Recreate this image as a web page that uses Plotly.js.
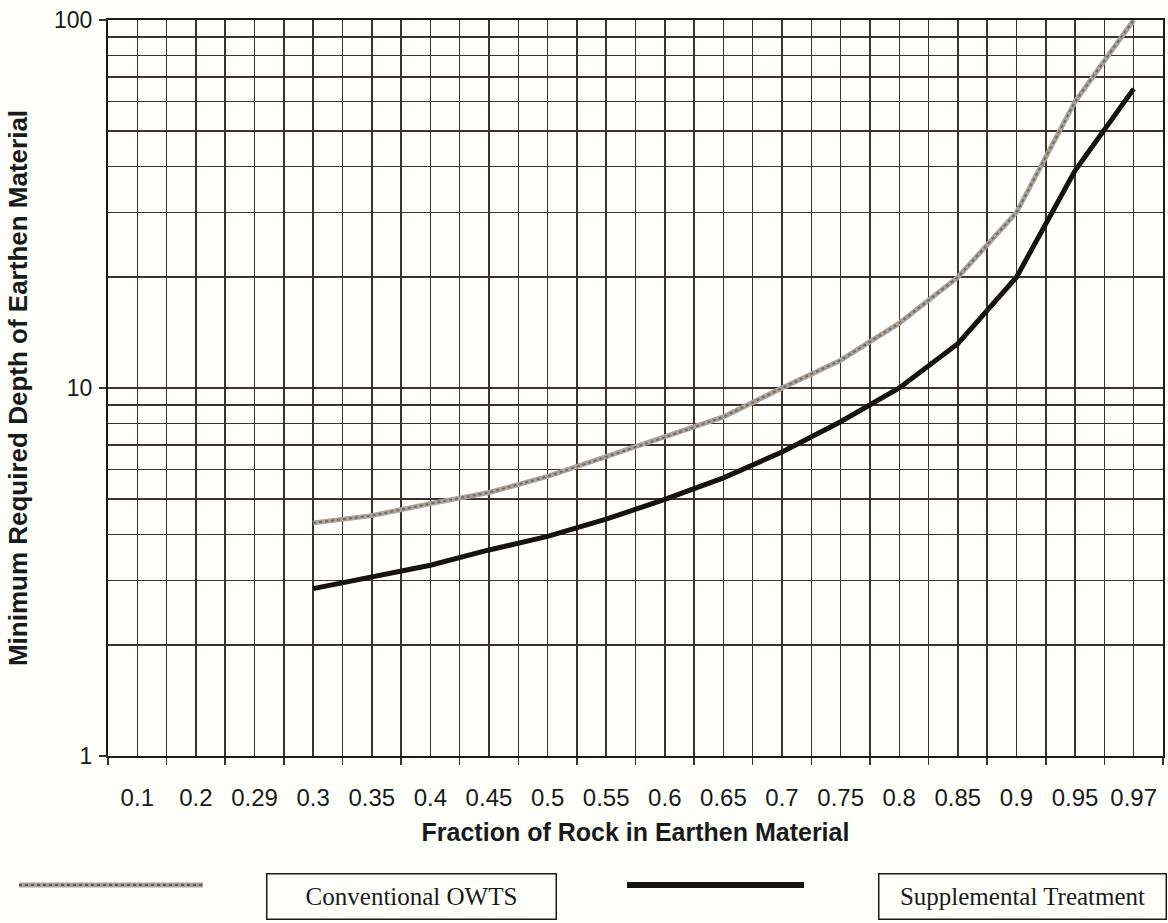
<!DOCTYPE html>
<html>
<head>
<meta charset="utf-8">
<script src="https://cdn.plot.ly/plotly-3.0.1.min.js"></script>
<style>html,body{margin:0;padding:0;background:#fffffb;}#chart{width:1168px;height:923px;}</style>
</head>
<body>
<div id="chart"></div>
<script>
const categories = ["0.1","0.2","0.29","0.3","0.35","0.4","0.45","0.5","0.55","0.6","0.65","0.7","0.75","0.8","0.85","0.9","0.95","0.97"];
const conventional = [null,null,null,4.3,4.5,4.85,5.2,5.75,6.5,7.35,8.35,10,11.9,15,20,30,60,100];
const supplemental = [null,null,null,2.85,3.07,3.3,3.63,3.95,4.4,4.98,5.7,6.7,8.1,10,13.2,20,39,65];
const yTicks = [1,10,100];
const yMinor = [2,3,4,5,6,7,8,9,20,30,40,50,60,70,80,90];
const seriesNames = ["Conventional OWTS","Supplemental Treatment"];

const gridCol = "#3b332c";
const centers = categories.map((c,i)=>i);

const traces = [
  {x: categories, y: conventional, type:"scatter", mode:"lines", line:{color:"#a9a49c", width:5}, showlegend:false, hoverinfo:"skip", connectgaps:false},
  {x: categories, y: conventional, type:"scatter", mode:"lines", line:{color:"#6f6960", width:2, dash:"dot"}, showlegend:false, hoverinfo:"skip"},
  {x: categories, y: supplemental, type:"scatter", mode:"lines", line:{color:"#151211", width:5}, showlegend:false, hoverinfo:"skip"},
  {x: centers, y: centers.map(()=>null), xaxis:"x2", type:"scatter", mode:"lines", showlegend:false, hoverinfo:"skip"}
];

const font = {family:"Liberation Sans, Arial, sans-serif", color:"#1a1a1a"};
const px = v => (v-108)/1055;
const py = v => (756-v)/736;

const layout = {
  width:1168, height:923,
  margin:{l:108, r:5, t:20, b:167},
  paper_bgcolor:"#fffffb", plot_bgcolor:"#fffffb",
  font: font,
  showlegend:false,
  xaxis:{
    type:"category", categoryorder:"array", categoryarray:categories,
    range:[-0.5, categories.length-0.5],
    tickson:"boundaries", ticks:"outside", ticklen:7, tickwidth:1.5, tickcolor:gridCol,
    showgrid:true, gridcolor:gridCol, gridwidth:1.5,
    showline:true, mirror:true, linecolor:"#1a1a1a", linewidth:2,
    zeroline:false,
    tickfont:{size:24, family:font.family, color:"#1a1a1a"},
    ticklabelstandoff:19,
    title:{text:"<b>Fraction of Rock in Earthen Material</b>", font:{size:25, family:font.family, color:"#1a1a1a"}, standoff:14},
    fixedrange:true
  },
  xaxis2:{
    overlaying:"x", anchor:"y", type:"linear",
    range:[-0.5, categories.length-0.5],
    tickmode:"array", tickvals:centers,
    showgrid:true, gridcolor:gridCol, gridwidth:1.5,
    showticklabels:false, ticks:"", zeroline:false, showline:false,
    fixedrange:true
  },
  yaxis:{
    type:"log", range:[0,2],
    tickmode:"array", tickvals:yTicks, ticktext:yTicks.map(String),
    ticks:"outside", ticklen:7, tickwidth:1.5, tickcolor:gridCol,
    showgrid:true, gridcolor:gridCol, gridwidth:1.5,
    minor:{tickmode:"array", tickvals:yMinor, showgrid:true, gridcolor:gridCol, gridwidth:1.5, ticks:""},
    showline:true, mirror:true, linecolor:"#1a1a1a", linewidth:2,
    zeroline:false,
    tickfont:{size:23, family:font.family, color:"#1a1a1a"},
    ticklabelstandoff:2,
    title:{text:"<b>Minimum Required Depth of Earthen Material</b>", font:{size:26, family:font.family, color:"#1a1a1a"}, standoff:19},
    fixedrange:true
  },
  shapes:[
    {type:"line", xref:"paper", yref:"paper", x0:px(19), x1:px(203), y0:py(885), y1:py(885), line:{color:"#a9a49c", width:5}},
    {type:"line", xref:"paper", yref:"paper", x0:px(19), x1:px(203), y0:py(885), y1:py(885), line:{color:"#5f5a52", width:2, dash:"dot"}},
    {type:"line", xref:"paper", yref:"paper", x0:px(627), x1:px(804), y0:py(885), y1:py(885), line:{color:"#151211", width:6}}
  ],
  annotations:[
    {xref:"paper", yref:"paper", x:px(411), y:py(896), xanchor:"center", yanchor:"middle", showarrow:false,
     text:seriesNames[0], width:288, height:44, bordercolor:"#1a1a1a", borderwidth:1.5, borderpad:0,
     font:{family:"Liberation Serif, Times New Roman, serif", size:25, color:"#1a1a1a"}},
    {xref:"paper", yref:"paper", x:px(1022), y:py(896), xanchor:"center", yanchor:"middle", showarrow:false,
     text:seriesNames[1], width:286, height:44, bordercolor:"#1a1a1a", borderwidth:1.5, borderpad:0,
     font:{family:"Liberation Serif, Times New Roman, serif", size:25, color:"#1a1a1a"}}
  ]
};

Plotly.newPlot("chart", traces, layout, {staticPlot:true, displayModeBar:false});
</script>
</body>
</html>
